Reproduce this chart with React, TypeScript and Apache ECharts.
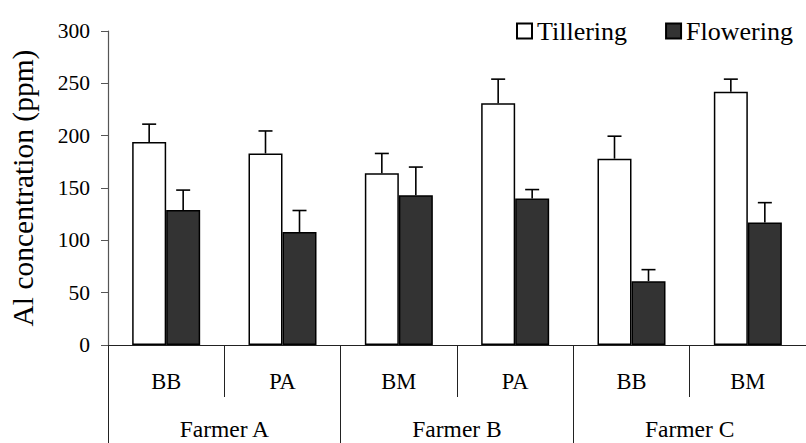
import React, { useEffect, useRef } from "react";
import * as echarts from "echarts";

const subLabels = ["BB", "PA", "BM", "PA", "BB", "BM"];
const farmers = ["Farmer A", "Farmer B", "Farmer C"];
const tillering = [194, 183, 164, 231, 178, 242];
const tilleringSE = [17, 21.5, 19, 23, 21.5, 12];
const flowering = [129, 108, 143, 140, 61, 117];
const floweringSE = [19, 20.5, 27, 8.5, 11, 19];
const yTicks = [0, 50, 100, 150, 200, 250, 300];

const FONT = "Liberation Serif";
const BAR_W = 34;

function errorSeries(name: string, values: number[], se: number[], side: number) {
  return {
    type: "custom",
    name: name + " SE",
    silent: true,
    z: 5,
    data: values.map((v, i) => [i, v, v + se[i]]),
    encode: { x: 0, y: [1, 2] },
    renderItem: (params: any, api: any) => {
      const base = api.coord([api.value(0), api.value(1)]);
      const top = api.coord([api.value(0), api.value(2)]);
      const x = base[0] + (side * BAR_W) / 2;
      const style = { stroke: "#000", lineWidth: 1.6 };
      return {
        type: "group",
        children: [
          { type: "line", shape: { x1: x, y1: base[1], x2: x, y2: top[1] }, style },
          { type: "line", shape: { x1: x - 7, y1: top[1], x2: x + 7, y2: top[1] }, style },
        ],
      };
    },
  };
}

export default function App() {
  const ref = useRef<HTMLDivElement>(null);
  useEffect(() => {
    if (!ref.current) return;
    const chart = echarts.init(ref.current, null, { renderer: "svg" });
    const label = (size: number, extra: any = {}) => ({
      fontFamily: FONT,
      fontSize: size,
      color: "#000",
      ...extra,
    });
    chart.setOption({
      animation: false,
      backgroundColor: "#fff",
      textStyle: { fontFamily: FONT, color: "#000" },
      legend: {
        data: ["Tillering", "Flowering"],
        left: 511,
        top: 13,
        icon: "rect",
        itemWidth: 15,
        itemHeight: 15,
        itemGap: 38,
        textStyle: label(26),
      },
      grid: { left: 108, top: 31, width: 713, height: 314 },
      xAxis: [
        {
          type: "category",
          data: subLabels,
          position: "bottom",
          axisLine: { show: true, lineStyle: { color: "#222", width: 1.2 } },
          axisTick: { show: true, interval: 0, length: 52, lineStyle: { color: "#222", width: 1 } },
          axisLabel: label(22.5, { interval: 0, margin: 25, lineHeight: 22 }),
        },
        {
          type: "category",
          data: farmers,
          position: "bottom",
          offset: 0,
          axisLine: { show: false },
          axisTick: { show: true, interval: 0, length: 100, lineStyle: { color: "#222", width: 1 } },
          axisLabel: label(23.5, { interval: 0, margin: 73, lineHeight: 22 }),
        },
      ],
      yAxis: {
        type: "value",
        min: yTicks[0],
        max: yTicks[yTicks.length - 1],
        interval: 50,
        name: "Al concentration (ppm)",
        nameLocation: "middle",
        nameGap: 70,
        nameTextStyle: label(29.5),
        axisLine: { show: true, lineStyle: { color: "#555", width: 1.2 } },
        axisTick: { show: true, length: 7, lineStyle: { color: "#555" } },
        axisLabel: label(21.5, { margin: 18 }),
        splitLine: { show: false },
      },
      series: [
        {
          type: "bar",
          name: "Tillering",
          data: tillering,
          barWidth: BAR_W,
          barGap: "0%",
          itemStyle: { color: "#fff", borderColor: "#000", borderWidth: 1.5 },
        },
        {
          type: "bar",
          name: "Flowering",
          data: flowering,
          barWidth: BAR_W,
          barGap: "0%",
          itemStyle: { color: "#333", borderColor: "#000", borderWidth: 1.5 },
        },
        errorSeries("Tillering", tillering, tilleringSE, -1),
        errorSeries("Flowering", flowering, floweringSE, 1),
      ],
    });
    return () => chart.dispose();
  }, []);
  return <div ref={ref} style={{ width: 806, height: 443, position: "absolute", left: 0, top: 0 }} />;
}
